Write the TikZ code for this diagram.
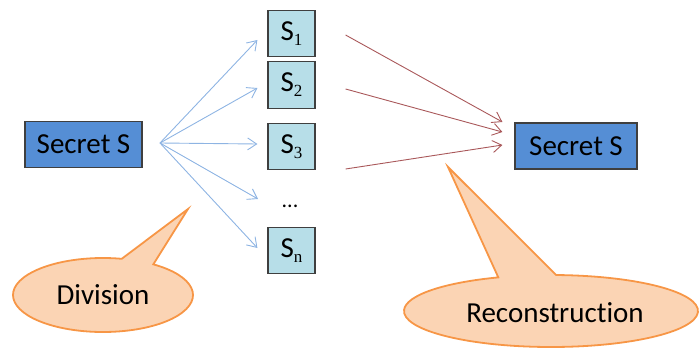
\documentclass[tikz,border=0pt]{standalone}
\usepackage{fontspec}
\setmainfont[Ligatures=NoCommon]{Carlito}
\newfontfamily\subfont{Liberation Serif}
\usetikzlibrary{arrows.meta,calc}
\definecolor{darkbox}{HTML}{558ED5}
\definecolor{lightbox}{HTML}{B7DEE8}
\definecolor{bluearrow}{HTML}{8EB4E3}
\definecolor{redarrow}{HTML}{A9585A}
\definecolor{calloutfill}{HTML}{FBD4B4}
\definecolor{calloutdraw}{HTML}{F79646}
\definecolor{boxdraw}{HTML}{3F3F3F}
\newcommand{\bigtext}{\fontsize{29}{31}\selectfont}
\newcommand{\sub}[1]{\raisebox{-5pt}{\fontsize{17}{17}\selectfont\subfont #1}}
\tikzset{
  secretbox/.style={draw=boxdraw, line width=1.2pt, fill=darkbox, minimum height=46pt, inner sep=0pt, font=\bigtext},
  sharebox/.style={draw=boxdraw, line width=1.2pt, fill=lightbox, minimum width=47pt, minimum height=46.5pt, inner sep=0pt, font=\bigtext},
  bluearr/.style={draw=bluearrow, line width=0.9pt, -{Straight Barb[length=9pt,width=12pt,line width=0.9pt]}},
  redarr/.style={draw=redarrow, line width=0.9pt, -{Straight Barb[length=9pt,width=12pt,line width=0.9pt]}},
  callout/.style={fill=calloutfill, draw=calloutdraw, line width=1.8pt, line join=miter},
  lbl/.style={font=\bigtext, inner sep=0pt}
}
\begin{document}
\begin{tikzpicture}[x=1pt,y=1pt]
\useasboundingbox (0,0) rectangle (699,349);
% callouts
\coordinate (dc) at (103,54);
\coordinate (dtip) at (188,140);
\draw[callout] ($(dc)+(78:90 and 37)$) -- (dtip) -- ($(dc)+(56:90 and 37)$)
  arc[start angle=56, end angle=-282, x radius=90, y radius=37] -- cycle;
\node[lbl] (div) at (103,54) {Division};
\coordinate (rc) at (551,38);
\coordinate (rtip) at (448,182);
\draw[callout] ($(rc)+(111:147 and 36)$) -- (rtip) -- ($(rc)+(88:147 and 36)$)
  arc[start angle=88, end angle=-249, x radius=147, y radius=36] -- cycle;
\node[lbl] (rec) at (555,36) {Reconstruction};
% boxes
\node[secretbox, minimum width=117pt] (sec1) at (83.5,204.5) {Secret S};
\node[secretbox, minimum width=122pt] (sec2) at (576,203) {Secret S};
\node[sharebox] (s1) at (291.5,315.5) {S\sub{1}};
\node[sharebox] (s2) at (291.5,264) {S\sub{2}};
\node[sharebox] (s3) at (291.5,202.5) {S\sub{3}};
\node[font=\fontsize{22}{24}\selectfont, anchor=base, inner sep=0pt] (dots) at (290,142) {...};
\node[sharebox] (sn) at (291.5,98.5) {S\sub{n}};
% blue arrows
\coordinate (src) at (160,206);
\draw[bluearr] (src) -- ([xshift=-10pt,yshift=-6.5pt]s1.west);
\draw[bluearr] (src) -- ([xshift=-10pt,yshift=-3pt]s2.west);
\draw[bluearr] (src) -- ([xshift=-10pt,yshift=2.5pt]s3.west);
\draw[bluearr] (src) -- ([xshift=-32pt,yshift=8pt]dots.base);
\draw[bluearr] (src) -- ([xshift=-10pt,yshift=2.5pt]sn.west);
% red arrows
\draw[redarr] ([xshift=30pt,yshift=-1.5pt]s1.east) -- ([xshift=-12pt,yshift=24pt]sec2.west);
\draw[redarr] ([xshift=30pt,yshift=-4pt]s2.east) -- ([xshift=-12pt,yshift=14pt]sec2.west);
\draw[redarr] ([xshift=30pt,yshift=-22.5pt]s3.east) -- ([xshift=-12pt,yshift=1pt]sec2.west);
\end{tikzpicture}
\end{document}
